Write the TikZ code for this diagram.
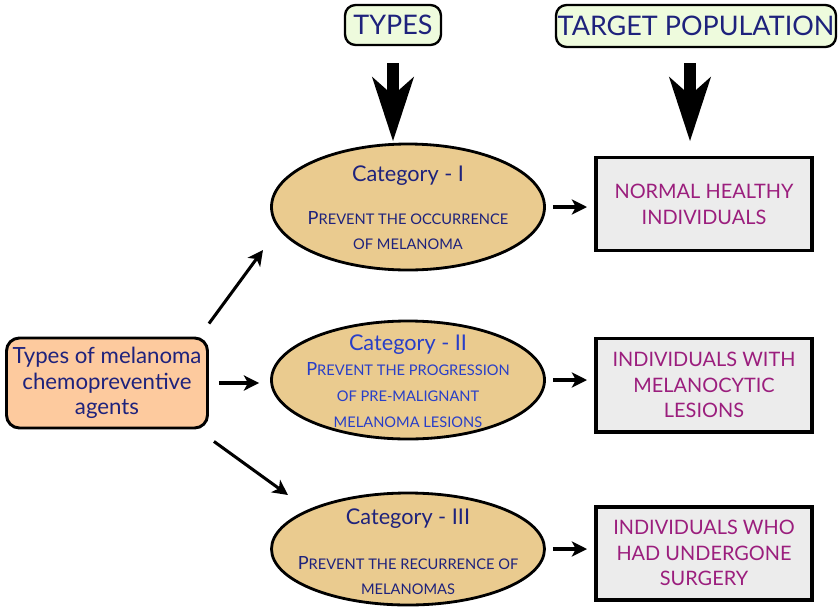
\documentclass[tikz,border=0pt]{standalone}
\usepackage{fontspec}
\setmainfont{Lato}
\usetikzlibrary{shapes.geometric,arrows.meta,calc}

\definecolor{navy}{RGB}{30,34,124}
\definecolor{catblue}{RGB}{40,62,200}
\definecolor{plum}{RGB}{155,30,125}
\definecolor{headfill}{RGB}{238,251,221}
\definecolor{papyrus}{RGB}{234,203,143}
\definecolor{peach}{RGB}{253,202,158}
\definecolor{boxgrey}{RGB}{236,236,236}

\newcommand{\initcap}[1]{{\fontsize{15.5pt}{22pt}\selectfont #1}}
\newcommand{\catfont}{\fontsize{18.5pt}{22pt}\selectfont}

\begin{document}
\begin{tikzpicture}[x=0.03cm,y=-0.03cm]
    \tikzstyle{header}=[
        draw = black,
        line width = 2pt,
        fill = headfill,
        rounded corners = 9pt,
        text = navy,
        font = \fontsize{23pt}{26pt}\selectfont,
        inner sep = 0pt
    ]
    \tikzstyle{category}=[
        draw = black,
        line width = 2.4pt,
        fill = papyrus,
        ellipse,
        minimum width = 273*0.03cm,
        inner sep = 0pt
    ]
    \tikzstyle{cat text}=[
        align = center,
        text = navy,
        font = \fontsize{12.5pt}{22pt}\selectfont
    ]
    \tikzstyle{population}=[
        draw = black,
        line width = 3.4pt,
        fill = boxgrey,
        minimum width = 216*0.03cm,
        minimum height = 93*0.03cm,
        align = center,
        text = plum,
        font = \fontsize{17pt}{22pt}\selectfont,
        inner sep = 0pt
    ]
    \tikzstyle{agent box}=[
        draw = black,
        line width = 2.5pt,
        fill = peach,
        rounded corners = 11pt,
        minimum width = 201*0.03cm,
        minimum height = 90*0.03cm,
        align = center,
        text = navy,
        font = \fontsize{19pt}{22pt}\selectfont,
        inner sep = 0pt
    ]
    \tikzstyle{thin arrow}=[
        line width = 2.6pt,
        -{Stealth[length=13pt, width=13pt, inset=3.5pt]}
    ]
    \tikzstyle{fat arrow}=[
        line width = 10pt,
        -{Stealth[length=55pt, width=36pt, inset=16pt, line width=0pt]}
    ]

    \useasboundingbox (0,0) rectangle (838,607);

    % column headings
	\node[header, minimum width = 96*0.03cm, minimum height = 40*0.03cm]  (types)  at (393, 25)  {TYPES};
	\node[header, minimum width = 280*0.03cm, minimum height = 42*0.03cm] (target) at (696, 26)  {TARGET POPULATION};

    % the three categories
	\node[category, minimum height = 126*0.03cm] (cat1) at (408, 207) {};
	\node[category, minimum height = 118*0.03cm] (cat2) at (408, 380) {};
	\node[category, minimum height = 112*0.03cm] (cat3) at (408, 549) {};

	\node[cat text] (cat1t) at (408, 208)
	    {{\catfont Category - I}\\[14pt]\initcap{P}REVENT THE OCCURRENCE\\OF MELANOMA};
	\node[cat text, text = catblue] (cat2t) at (408, 381)
	    {{\catfont Category - II}\\\initcap{P}REVENT THE PROGRESSION\\OF PRE-MALIGNANT\\MELANOMA LESIONS};
	\node[cat text] (cat3t) at (408, 552)
	    {{\catfont Category - III}\\[16pt]\initcap{P}REVENT THE RECURRENCE OF\\MELANOMAS};

    % agents and target populations
	\node[agent box]  (agents) at (107, 383) {Types of melanoma\\chemopreventive\\agents};
	\node[population] (pop1)   at (704, 204) {NORMAL HEALTHY\\INDIVIDUALS};
	\node[population] (pop2)   at (704, 385) {INDIVIDUALS WITH\\MELANOCYTIC\\LESIONS};
	\node[population] (pop3)   at (704, 553) {INDIVIDUALS WHO\\HAD UNDERGONE\\SURGERY};

	\coordinate (tip1) at (393, 141);
	\coordinate (tip2) at (690, 141);
	\coordinate (up end)   at (263, 250);
	\coordinate (down end) at (288, 495);

	\draw[fat arrow, shorten <= 17*0.03cm] (types.south) -- (tip1);
	\draw[fat arrow, shorten <= 15*0.03cm] (tip2 |- target.south) -- (tip2);

	\draw[thin arrow] ($(agents.north east)+(0,-13)$) -- (up end);
	\draw[thin arrow, shorten <= 10*0.03cm, shorten >= 11*0.03cm] (agents.east) -- (agents.east -| cat2.west);
	\draw[thin arrow] ($(agents.south east)+(5,12)$) -- (down end);

	\draw[thin arrow, shorten <= 7*0.03cm, shorten >= 7*0.03cm] (cat1.east) -- (cat1.east -| pop1.west);
	\draw[thin arrow, shorten <= 7*0.03cm, shorten >= 7*0.03cm] (cat2.east) -- (cat2.east -| pop2.west);
	\draw[thin arrow, shorten <= 7*0.03cm, shorten >= 7*0.03cm] (cat3.east) -- (cat3.east -| pop3.west);

\end{tikzpicture}
\end{document}
